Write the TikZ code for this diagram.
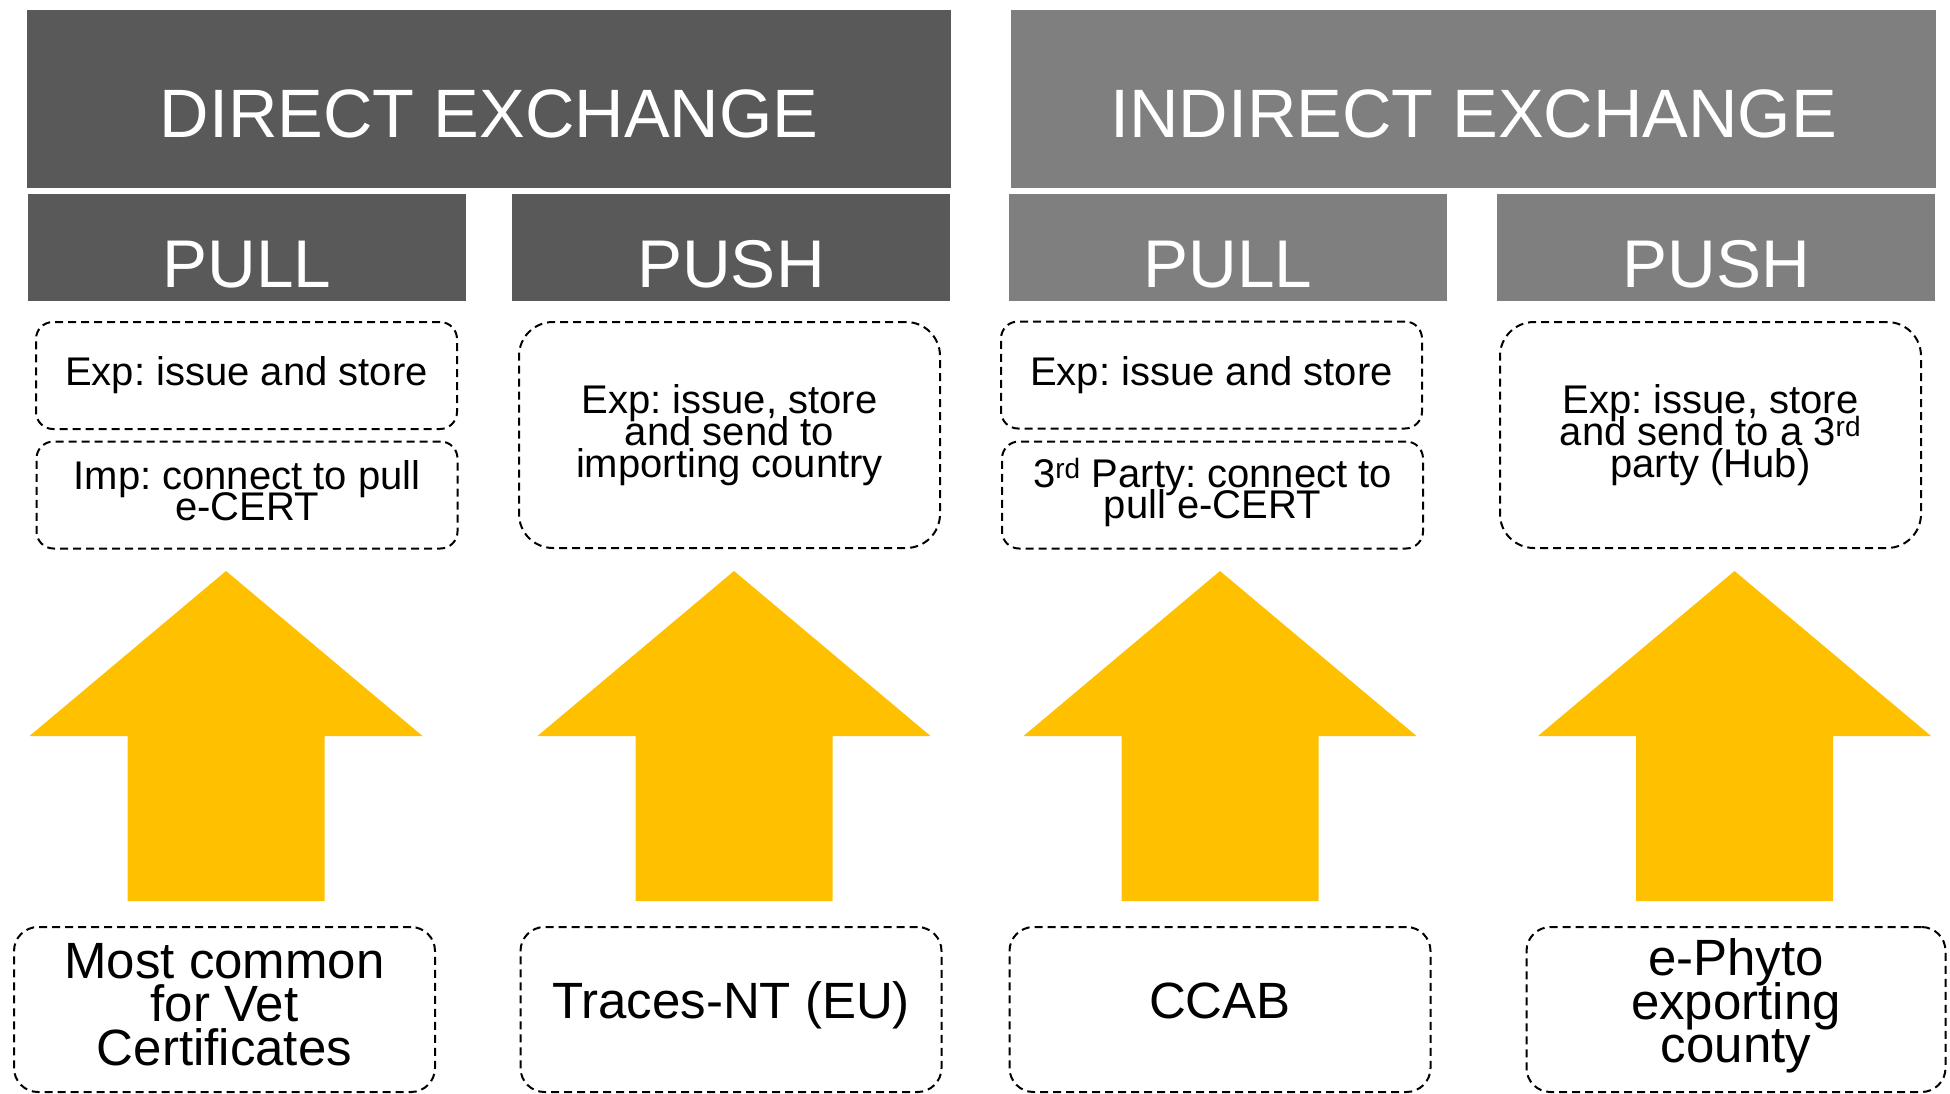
\documentclass[tikz,border=0pt]{standalone}
\usepackage{fontspec}
\setmainfont{Liberation Sans}
\definecolor{darkhdr}{HTML}{595959}
\definecolor{lighthdr}{HTML}{7F7F7F}
\definecolor{arrowc}{HTML}{FFC000}
\begin{document}
\frenchspacing
\begin{tikzpicture}[x=1pt,y=-1pt,
  bighdr/.style={inner sep=0pt, text=white, font=\fontsize{68.5}{80}\selectfont,
    text height=76pt, text depth=0pt, minimum height=178pt},
  subhdr/.style={inner sep=0pt, text=white, font=\fontsize{67.5}{78}\selectfont,
    text height=79pt, text depth=0pt, minimum width=438pt, minimum height=107pt},
  dbox/.style={draw=black, line width=2pt, dash pattern=on 8pt off 5pt,
    align=center, inner sep=0pt, minimum width=421pt},
  smalltxt/.style={font={\fontsize{40}{31}\selectfont\lineskiplimit-100pt\frenchspacing}},
  talltxt/.style={font={\fontsize{40}{32}\selectfont\lineskiplimit-100pt\frenchspacing}},
  bigtxt/.style={font={\fontsize{51}{43.5}\selectfont\lineskiplimit-100pt\frenchspacing},
    minimum height=165pt, rounded corners=24pt},
  upbox/.style={dbox, smalltxt, minimum height=107pt, rounded corners=17pt},
  tallbox/.style={dbox, talltxt, minimum height=226pt, rounded corners=34pt},
  uparrow/.pic={\fill[arrowc] (0,0) -- (196.5,165) -- (98.5,165) -- (98.5,330)
     -- (-98.5,330) -- (-98.5,165) -- (-196.5,165) -- cycle;}
]
\useasboundingbox (0,0) rectangle (1950,1093);

% main headers
\node[bighdr, fill=darkhdr, minimum width=924pt] (dex) at (489,99) {DIRECT EXCHANGE};
\node[bighdr, fill=lighthdr, minimum width=925pt] (iex) at (1473.5,99) {INDIRECT EXCHANGE};

% sub headers
\node[subhdr, fill=darkhdr] (dpull) at (247,247.5) {PULL};
\node[subhdr, fill=darkhdr] (dpush) at (731,247.5) {PUSH};
\node[subhdr, fill=lighthdr] (ipull) at (1228,247.5) {PULL};
\node[subhdr, fill=lighthdr] (ipush) at (1716,247.5) {PUSH};

% upper dashed boxes
\node[upbox] (u1) at (246.5,375.5) {Exp: issue and store};
\node[upbox, text depth=10pt] (u2) at (247,495) {Imp: connect to pull\\e-CERT};
\node[tallbox] (u3) at (729.5,435) {Exp: issue, store\\and send to\\importing country};
\node[upbox] (u4) at (1211.5,375) {Exp: issue and store};
\node[upbox, text depth=13pt] (u5) at (1212.5,495) {3\textsuperscript{rd} Party: connect to\\pull e-CERT};
\node[tallbox] (u6) at (1710.5,435) {Exp: issue, store\\and send to a 3\textsuperscript{rd}\\party (Hub)};

% arrows
\pic at (226,571) {uparrow};
\pic at (734,571) {uparrow};
\pic at (1220,571) {uparrow};
\pic at (1734.5,571) {uparrow};

% bottom dashed boxes
\node[dbox, bigtxt, text depth=11pt] (b1) at (224.5,1009.5) {Most common\\for Vet\\Certificates};
\node[dbox, bigtxt, text height=36pt, text depth=18pt] (b2) at (731,1009.5) {Traces-NT (EU)};
\node[dbox, bigtxt, text height=36pt, text depth=18pt] (b3) at (1220,1009.5) {CCAB};
\node[dbox, bigtxt, minimum width=419pt, text depth=17.5pt] (b4) at (1736,1009.5) {e-Phyto\\exporting\\county};
\end{tikzpicture}
\end{document}
